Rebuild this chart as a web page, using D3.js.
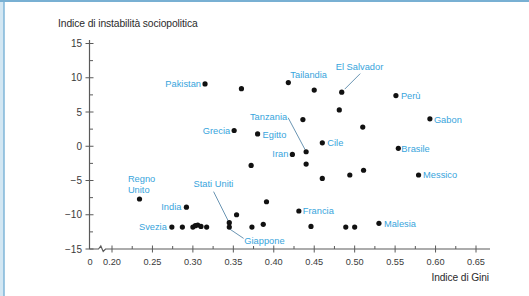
<!DOCTYPE html>
<html>
<head>
<meta charset="utf-8">
<script src="https://cdn.jsdelivr.net/npm/d3@7"></script>
<style>
  body { margin: 0; background: #fff; }
  svg { display: block; font-family: "Liberation Sans", Arial, sans-serif; }
</style>
</head>
<body>
<svg id="chart" width="529" height="296"></svg>
<script>
// Indice di Gini (x) e indice di instabilità (y) per paese
const gini = [0.234, 0.292, 0.274, 0.287, 0.300, 0.303, 0.306, 0.310, 0.317,
  0.345, 0.345, 0.354, 0.373, 0.387, 0.391, 0.315, 0.360, 0.418, 0.450, 0.484,
  0.481, 0.436, 0.351, 0.380, 0.460, 0.440, 0.423, 0.440, 0.372, 0.460, 0.494,
  0.511, 0.510, 0.551, 0.593, 0.554, 0.579, 0.431, 0.446, 0.489, 0.500, 0.530];
const instability = [-7.7, -8.9, -11.8, -11.8, -11.8, -11.6, -11.5, -11.7, -11.8,
  -11.15, -11.8, -10.0, -11.8, -11.4, -8.1, 9.1, 8.4, 9.3, 8.2, 7.9,
  5.3, 3.9, 2.3, 1.8, 0.5, -0.8, -1.2, -2.6, -2.8, -4.7, -4.2,
  -3.5, 2.8, 7.4, 4.0, -0.3, -4.2, -9.45, -11.7, -11.8, -11.8, -11.25];
const country = ["Regno Unito", "India", "Svezia", "", "", "", "", "", "",
  "Stati Uniti", "Giappone", "", "", "", "", "Pakistan", "", "Tailandia", "", "El Salvador",
  "", "", "Grecia", "Egitto", "Cile", "Tanzania", "Iran", "", "", "", "",
  "", "", "Perù", "Gabon", "Brasile", "Messico", "Francia", "", "", "", "Malesia"];

const xTicks = [0.20, 0.25, 0.30, 0.35, 0.40, 0.45, 0.50, 0.55, 0.60, 0.65];
const yTicks = [-15, -10, -5, 0, 5, 10, 15];

// label placement relative to the dot (pixels)
const labelPos = {
  "Pakistan": { dx: -4, dy: 0, anchor: "end" },
  "Tailandia": { dx: 2, dy: -8, anchor: "start" },
  "El Salvador": { dx: -6, dy: -25, anchor: "start", leader: [[3, -3], [18.5, -18.5]] },
  "Perù": { dx: 5, dy: 0, anchor: "start" },
  "Gabon": { dx: 4, dy: 0.5, anchor: "start" },
  "Brasile": { dx: 3, dy: 0.3, anchor: "start" },
  "Messico": { dx: 4.5, dy: 0, anchor: "start" },
  "Cile": { dx: 5, dy: 0, anchor: "start" },
  "Tanzania": { dx: -19, dy: -35, anchor: "end", leader: [[-18, -34], [-1, -2]] },
  "Grecia": { dx: -4, dy: 0, anchor: "end" },
  "Egitto": { dx: 5, dy: 1, anchor: "start" },
  "Iran": { dx: -4, dy: -0.7, anchor: "end" },
  "Regno Unito": { dx: -11.6, dy: -20.7, anchor: "start", lines: ["Regno", "Unito"], lh: 11.7 },
  "India": { dx: -5, dy: 0, anchor: "end" },
  "Svezia": { dx: -5, dy: 0, anchor: "end" },
  "Stati Uniti": { dx: -35.7, dy: -38.7, anchor: "start", leader: [[-15.7, -31], [-0.7, -1]] },
  "Giappone": { dx: 15, dy: 13.7, anchor: "start", leader: [[0.5, 2], [14.3, 11.3]] },
  "Francia": { dx: 4, dy: 0, anchor: "start" },
  "Malesia": { dx: 5, dy: 0.7, anchor: "start" }
};

const svg = d3.select("#chart");
const blue = "#38a4dc", axisColor = "#5a5a5a", textColor = "#3a3a3a";

// frame of the original picture
svg.append("rect").attr("x", 0).attr("y", 0).attr("width", 4).attr("height", 296).attr("fill", "#d3e7f3");
svg.append("line").attr("x1", 4).attr("x2", 4).attr("y1", 0).attr("y2", 296)
  .attr("stroke", "#7fb6d8").attr("stroke-width", 1.5);
svg.append("rect").attr("x", 0).attr("y", 0).attr("width", 529).attr("height", 2).attr("fill", "#78b0d3");

const x = d3.scaleLinear().domain([0.20, 0.65]).range([112, 476]);
const y = d3.scaleLinear().domain([-15, 15]).range([249, 43.5]);
const x0 = 89.5, yBase = y(-15);

// y axis
const ya = svg.append("g");
ya.append("line").attr("x1", x0).attr("x2", x0).attr("y1", 40).attr("y2", yBase)
  .attr("stroke", axisColor).attr("stroke-width", 1.2);
ya.selectAll(".maj").data(yTicks).enter().append("line")
  .attr("x1", x0 - 4).attr("x2", x0 + 4)
  .attr("y1", d => y(d)).attr("y2", d => y(d))
  .attr("stroke", axisColor).attr("stroke-width", 1);
ya.selectAll(".min").data(yTicks.slice(0, -1).map(d => d + 2.5)).enter().append("line")
  .attr("x1", x0).attr("x2", x0 + 3.5)
  .attr("y1", d => y(d)).attr("y2", d => y(d))
  .attr("stroke", axisColor).attr("stroke-width", 1);
ya.selectAll("text").data(yTicks).enter().append("text")
  .attr("x", 82).attr("y", d => y(d)).attr("dy", "0.35em")
  .attr("text-anchor", "end").attr("font-size", 10).attr("fill", textColor)
  .text(d => d < 0 ? "\u2212" + Math.abs(d) : d);

// x axis with break
const xa = svg.append("g");
xa.append("path")
  .attr("d", d3.line()([[x0, yBase], [98.5, yBase], [100.8, yBase - 3], [103.2, yBase + 2.5], [105.5, yBase], [490, yBase]]))
  .attr("fill", "none").attr("stroke", axisColor).attr("stroke-width", 1.2);
xa.selectAll(".maj").data(xTicks).enter().append("line")
  .attr("x1", d => x(d)).attr("x2", d => x(d))
  .attr("y1", yBase - 3.5).attr("y2", yBase + 3.5)
  .attr("stroke", axisColor).attr("stroke-width", 1);
xa.selectAll(".min").data(xTicks.slice(0, -1).map(d => d + 0.025)).enter().append("line")
  .attr("x1", d => x(d)).attr("x2", d => x(d))
  .attr("y1", yBase - 3).attr("y2", yBase)
  .attr("stroke", axisColor).attr("stroke-width", 1);
xa.selectAll("text").data(xTicks).enter().append("text")
  .attr("x", d => x(d)).attr("y", 264.5)
  .attr("text-anchor", "middle").attr("font-size", 9.2).attr("fill", textColor)
  .text(d => d3.format(".2f")(d));
xa.append("text").attr("x", x0 + 0.5).attr("y", 264.5)
  .attr("text-anchor", "middle").attr("font-size", 9.2).attr("fill", textColor).text("0");

// titles
svg.append("text").attr("x", 58).attr("y", 27).attr("font-size", 10.3).attr("fill", "#2a2a2a")
  .attr("letter-spacing", -0.1).text("Indice di instabilità sociopolitica");
svg.append("text").attr("x", 489).attr("y", 281).attr("text-anchor", "end")
  .attr("font-size", 10.2).attr("fill", "#2a2a2a").attr("letter-spacing", -0.1).text("Indice di Gini");

// points
const pts = gini.map((g, i) => ({ g: g, v: instability[i], name: country[i] }));

const labelled = pts.filter(d => d.name && labelPos[d.name]);
svg.append("g").selectAll("path").data(labelled.filter(d => labelPos[d.name].leader)).enter().append("path")
  .attr("d", d => {
    const L = labelPos[d.name].leader;
    return d3.line()(L.map(p => [x(d.g) + p[0], y(d.v) + p[1]]));
  })
  .attr("fill", "none").attr("stroke", "#6a95b3").attr("stroke-width", 1);

svg.append("g").selectAll("circle").data(pts).enter().append("circle")
  .attr("cx", d => x(d.g)).attr("cy", d => y(d.v)).attr("r", 2.6).attr("fill", "#111");

// one text element per label line
const lines = [];
labelled.forEach(d => {
  const p = labelPos[d.name];
  (p.lines || [d.name]).forEach((s, k) => {
    lines.push({ s: s, px: x(d.g) + p.dx, py: y(d.v) + p.dy + k * (p.lh || 0), anchor: p.anchor });
  });
});
svg.append("g").selectAll("text").data(lines).enter().append("text")
  .attr("x", d => d.px).attr("y", d => d.py).attr("dy", "0.35em")
  .attr("text-anchor", d => d.anchor)
  .attr("font-size", 9.3).attr("fill", blue)
  .text(d => d.s);
</script>
</body>
</html>
